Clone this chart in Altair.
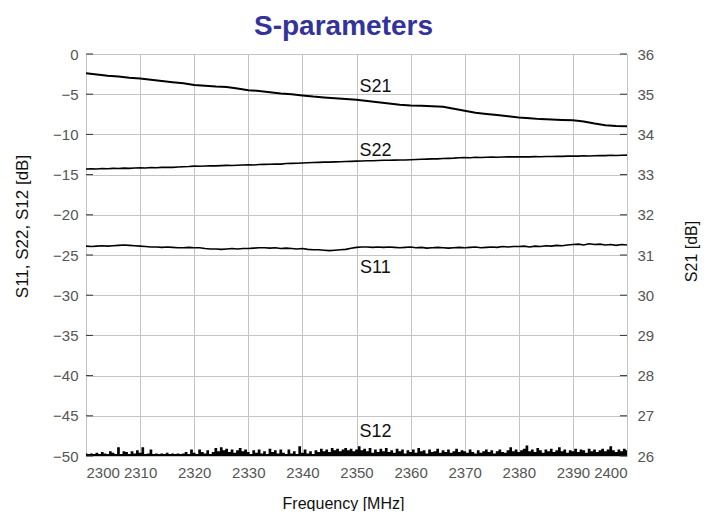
import altair as alt
import pandas as pd

# ---------------- data ----------------
freq_1mhz = list(range(2300, 2401))

S11 = [-23.9, -23.95, -23.9, -23.85, -23.9, -23.85, -23.8, -23.75, -23.8, -23.85,
       -23.9, -23.95, -24.0, -24.0, -24.05, -24.0, -24.05, -24.1, -24.1, -24.05,
       -24.1, -24.1, -24.2, -24.25, -24.25, -24.3, -24.25, -24.2, -24.25, -24.2,
       -24.2, -24.15, -24.1, -24.1, -24.15, -24.1, -24.2, -24.15, -24.2, -24.25,
       -24.2, -24.3, -24.35, -24.35, -24.4, -24.45, -24.4, -24.35, -24.3, -24.15,
       -24.05, -24.0, -24.0, -24.05, -24.0, -24.05, -24.0, -24.05, -24.1, -24.05,
       -24.0, -24.1, -24.05, -24.15, -24.1, -24.05, -24.1, -24.15, -24.1, -24.05,
       -24.1, -24.05, -24.0, -24.1, -24.05, -24.0, -24.05, -23.95, -24.0, -23.95,
       -23.95, -23.9, -24.0, -23.9, -23.95, -23.85, -23.9, -23.8, -23.85, -23.75,
       -23.7, -23.65, -23.75, -23.6, -23.7, -23.65, -23.75, -23.7, -23.8, -23.7, -23.75]

S22 = [-14.3, -14.28, -14.3, -14.25, -14.27, -14.22, -14.24, -14.2, -14.22, -14.18,
       -14.15, -14.17, -14.12, -14.14, -14.1, -14.08, -14.1, -14.05, -14.03, -14.0,
       -13.95, -13.97, -13.93, -13.9, -13.92, -13.88, -13.85, -13.87, -13.83, -13.8,
       -13.78, -13.8, -13.75, -13.73, -13.72, -13.68, -13.7, -13.62, -13.6, -13.58,
       -13.55, -13.53, -13.5, -13.48, -13.45, -13.45, -13.42, -13.4, -13.38, -13.35,
       -13.32, -13.3, -13.28, -13.27, -13.25, -13.22, -13.22, -13.2, -13.18, -13.18,
       -13.15, -13.13, -13.1, -13.08, -13.05, -13.05, -13.0, -12.98, -12.95, -12.9,
       -12.88, -12.9, -12.85, -12.87, -12.85, -12.83, -12.85, -12.82, -12.8, -12.8,
       -12.8, -12.78, -12.8, -12.76, -12.78, -12.75, -12.74, -12.72, -12.73, -12.7,
       -12.68, -12.7, -12.66, -12.68, -12.65, -12.63, -12.64, -12.6, -12.62, -12.6, -12.58]

freq_2mhz = list(range(2300, 2401, 2))
S21 = [35.52, 35.49, 35.46, 35.44, 35.41, 35.39, 35.36, 35.33, 35.30, 35.27,
       35.23, 35.21, 35.19, 35.18, 35.14, 35.10, 35.08, 35.05, 35.02, 35.00,
       34.97, 34.94, 34.92, 34.90, 34.88, 34.86, 34.83, 34.80, 34.77, 34.74,
       34.72, 34.71, 34.70, 34.69, 34.64, 34.59, 34.54, 34.51, 34.48, 34.45,
       34.42, 34.40, 34.38, 34.37, 34.36, 34.35, 34.32, 34.27, 34.23, 34.21, 34.20]

freq_half = [2300 + 0.5 * i for i in range(201)]
S12 = [-49.7, -49.75, -49.7, -49.75, -49.6, -49.75, -49.5, -49.7, -49.75, -49.4,
       -49.6, -49.75, -48.9, -49.75, -49.4, -49.5, -49.75, -49.4, -49.7, -49.3,
       -49.6, -48.9, -49.75, -49.7, -49.2, -49.75, -49.7, -49.75, -49.7, -49.75,
       -49.6, -49.75, -49.7, -49.75, -49.7, -49.75, -49.7, -49.5, -49.75, -49.2,
       -49.6, -49.75, -49.2, -49.5, -49.7, -49.3, -49.75, -49.5, -49.0, -49.4,
       -48.9, -49.3, -49.1, -49.5, -49.2, -49.6, -49.3, -49.0, -49.4, -49.2,
       -49.5, -49.75, -49.3, -49.6, -49.2, -49.7, -49.4, -49.75, -49.1, -49.5,
       -49.3, -49.7, -49.2, -49.6, -49.75, -49.2, -49.7, -49.4, -49.75, -48.8,
       -49.6, -49.2, -49.7, -49.4, -49.75, -49.3, -49.5, -49.1, -49.4, -49.2,
       -49.5, -49.0, -49.3, -49.1, -49.4, -49.2, -49.0, -49.3, -49.1, -49.4,
       -49.2, -48.8, -49.3, -49.1, -49.4, -49.0, -49.6, -49.2, -49.5, -49.1,
       -49.4, -49.0, -49.5, -49.3, -49.6, -49.1, -49.4, -49.2, -49.7, -49.3,
       -49.5, -49.2, -49.6, -49.0, -49.4, -49.3, -49.7, -49.2, -49.5, -49.4,
       -49.1, -49.6, -49.3, -49.5, -49.2, -49.6, -49.4, -49.1, -49.5, -49.3,
       -49.4, -49.6, -49.2, -49.5, -49.7, -49.3, -49.6, -49.4, -49.2, -49.5,
       -49.3, -49.7, -49.4, -49.2, -49.5, -49.6, -49.3, -48.9, -49.4, -49.2,
       -49.5, -49.3, -49.1, -48.7, -49.4, -49.2, -49.5, -49.0, -49.3, -49.6,
       -49.2, -49.4, -49.1, -49.5, -49.3, -48.9, -49.4, -49.2, -49.6, -49.3,
       -49.4, -49.1, -49.5, -49.2, -49.3, -49.6, -49.1, -49.4, -49.2, -49.5,
       -49.3, -49.1, -49.4, -49.2, -48.8, -49.3, -49.5, -49.2, -49.4, -49.1,
       -49.3]

label_text = ["S21", "S22", "S11", "S12"]
label_freq = [2353.5, 2353.5, 2353.5, 2353.5]
label_db = [-4.1, -12.1, -26.6, -47.0]

left_ticks = [0, -5, -10, -15, -20, -25, -30, -35, -40, -45, -50]
right_ticks = [26, 27, 28, 29, 30, 31, 32, 33, 34, 35, 36]
x_ticks = list(range(2300, 2401, 10))

# ---------------- tables ----------------
df_left = pd.concat([
    pd.DataFrame({"f": freq_1mhz, "v": S11, "s": "S11"}),
    pd.DataFrame({"f": freq_1mhz, "v": S22, "s": "S22"}),
])
df_s12 = pd.DataFrame({"f": freq_half, "v": S12})
df_s21 = pd.DataFrame({"f": freq_2mhz, "v": S21})
df_lab = pd.DataFrame({"t": label_text, "f": label_freq, "v": label_db})
df_lt = pd.DataFrame({"v": left_ticks})
df_rt = pd.DataFrame({"v": right_ticks})

FONT = "Liberation Sans"
W, H = 541, 402
LBL = dict(labelFontSize=15, labelColor="#555555", labelFont=FONT, labelOverlap=False)
TTL = dict(titleFont=FONT, titleFontSize=16, titleFontWeight="normal",
           titleColor="#111111", titleAlign="center", titleBaseline="middle")

xscale = alt.Scale(domain=[2300, 2400], nice=False)
xaxis = alt.Axis(values=x_ticks, format="d", title="Frequency [MHz]", grid=True,
                 gridColor="#c4c4c4", tickSize=0, domain=False, labelPadding=9,
                 titleX=257, titleY=47, **LBL, **TTL)
lscale = alt.Scale(domain=[-50, 0], nice=False)
lyaxis = alt.Axis(values=left_ticks, title="S11, S22, S12 [dB]", grid=True,
                  gridColor="#c4c4c4", tickSize=0, domain=False, labelPadding=8,
                  titleX=-64, titleY=172, titleAngle=270, **LBL,
                  **{**TTL, "titleFontSize": 17})
rscale = alt.Scale(domain=[26, 36], nice=False)
ryaxis = alt.Axis(values=right_ticks, title="S21 [dB]", orient="right", grid=False,
                  tickSize=0, domain=False, labelPadding=10, titleX=64, titleY=197,
                  titleAngle=270, **LBL, **TTL)

left_lines = alt.Chart(df_left).mark_line(color="black", strokeWidth=1.6, clip=True).encode(
    x=alt.X("f:Q", scale=xscale, axis=xaxis),
    y=alt.Y("v:Q", scale=lscale, axis=lyaxis),
    detail="s:N",
)
s12_area = alt.Chart(df_s12).mark_area(color="black", clip=True, interpolate="step").encode(
    x=alt.X("f:Q", scale=xscale),
    y=alt.Y("v:Q", scale=lscale),
    y2=alt.datum(-50),
)
labels = alt.Chart(df_lab).mark_text(font=FONT, fontSize=18, color="#111111").encode(
    x=alt.X("f:Q", scale=xscale),
    y=alt.Y("v:Q", scale=lscale),
    text="t:N",
)
lticks = alt.Chart(df_lt).mark_rule(color="#333333", strokeWidth=1).encode(
    x=alt.value(0), x2=alt.value(7), y=alt.Y("v:Q", scale=lscale)
)
left_layer = alt.layer(left_lines, s12_area, labels, lticks)

s21_line = alt.Chart(df_s21).mark_line(color="black", strokeWidth=2, clip=True).encode(
    x=alt.X("f:Q", scale=xscale),
    y=alt.Y("v:Q", scale=rscale, axis=ryaxis),
)
rticks = alt.Chart(df_rt).mark_rule(color="#333333", strokeWidth=1).encode(
    x=alt.value(W - 7), x2=alt.value(W), y=alt.Y("v:Q", scale=rscale)
)
right_layer = alt.layer(s21_line, rticks)

chart = alt.layer(left_layer, right_layer).resolve_scale(y="independent").properties(
    width=W, height=H,
    autosize=alt.AutoSizeParams(type="none"),
    padding={"left": 78, "top": 46, "right": 85, "bottom": 55},
    title=alt.TitleParams("S-parameters", font=FONT, fontSize=28, fontWeight="bold",
                          color="#333399", anchor="middle", dx=-13, offset=6),
).configure_view(stroke="#555555", strokeWidth=1.5).configure(background="white")

chart.save("out.html", embed_options={"renderer": "svg", "actions": False})
